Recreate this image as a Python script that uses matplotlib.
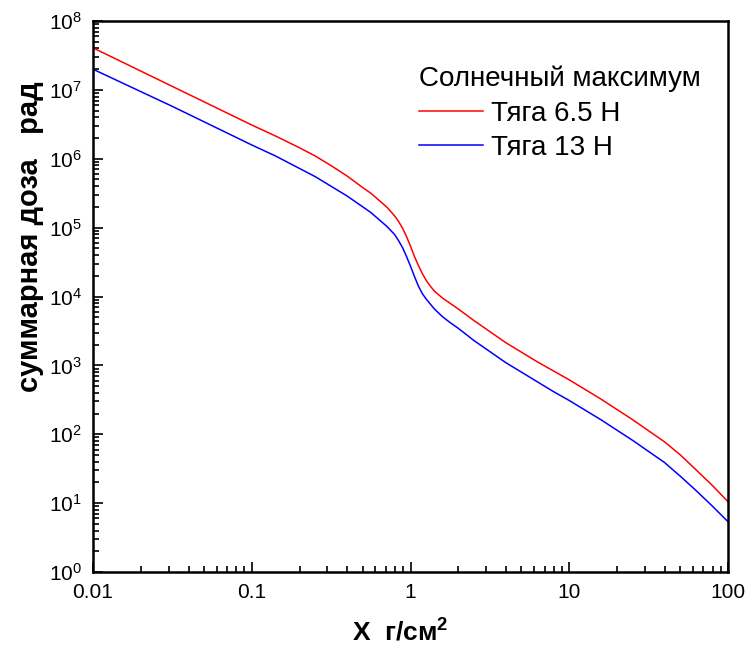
import numpy as np
import matplotlib
matplotlib.use('Agg')
import matplotlib.pyplot as plt
from matplotlib.ticker import LogLocator, FixedLocator, FixedFormatter, NullFormatter

plt.rcParams['font.family'] = ['Liberation Sans', 'DejaVu Sans']
plt.rcParams['mathtext.fontset'] = 'custom'
plt.rcParams['mathtext.rm'] = 'Liberation Sans'

# ── Data (log10 values) ──────────────────────────────────────────────────────
log_x = [-2.0, -1.5, -1.0, -0.85, -0.7, -0.6, -0.5, -0.4, -0.3, -0.25, -0.2,
         -0.15, -0.1, -0.075, -0.05, -0.025, 0.0, 0.025, 0.05, 0.075, 0.1,
         0.125, 0.15, 0.2, 0.25, 0.3, 0.4, 0.5, 0.6, 0.7, 0.8, 0.9, 1.0,
         1.1, 1.2, 1.3, 1.4, 1.5, 1.6, 1.7, 1.8, 1.9, 2.0]
log_red = [7.61, 7.05, 6.49, 6.33, 6.16, 6.04, 5.90, 5.75, 5.58, 5.50, 5.40,
           5.30, 5.17, 5.09, 4.99, 4.87, 4.73, 4.58, 4.45, 4.33, 4.23,
           4.15, 4.08, 3.98, 3.90, 3.82, 3.65, 3.49, 3.33, 3.19, 3.05, 2.92, 2.79,
           2.65, 2.51, 2.36, 2.21, 2.05, 1.89, 1.70, 1.48, 1.26, 1.02]
log_blue = [7.30, 6.76, 6.20, 6.04, 5.86, 5.74, 5.60, 5.46, 5.30, 5.22, 5.12,
            5.02, 4.90, 4.81, 4.71, 4.58, 4.44, 4.29, 4.15, 4.04, 3.96,
            3.89, 3.82, 3.71, 3.62, 3.54, 3.36, 3.20, 3.04, 2.90, 2.76, 2.62, 2.49,
            2.35, 2.21, 2.06, 1.91, 1.75, 1.59, 1.39, 1.18, 0.96, 0.73]

x = 10 ** np.array(log_x)
y_red = 10 ** np.array(log_red)
y_blue = 10 ** np.array(log_blue)

x_ticks = [0.01, 0.1, 1, 10, 100]
x_ticklabels = ['0.01', '0.1', '1', '10', '100']
y_ticks = [10.0 ** k for k in range(0, 9)]
y_ticklabels = [r'$\mathregular{10^{%d}}$' % k for k in range(0, 9)]

# ── Figure ───────────────────────────────────────────────────────────────────
fig = plt.figure(figsize=(7.54, 6.47), dpi=100, facecolor='white')
ax = fig.add_axes([93 / 754, 75 / 647, 635 / 754, 551 / 647])

ax.plot(x, y_red, color='#ff0000', lw=1.1, label='Тяга 6.5 Н')
ax.plot(x, y_blue, color='#0000ff', lw=1.1, label='Тяга 13 Н')

ax.set_xscale('log')
ax.set_yscale('log')
ax.set_xlim(0.01, 100)
ax.set_ylim(1, 1e8)

ax.xaxis.set_major_locator(FixedLocator(x_ticks))
ax.xaxis.set_major_formatter(FixedFormatter(x_ticklabels))
ax.xaxis.set_minor_locator(LogLocator(base=10, subs=np.arange(2, 10), numticks=20))
ax.xaxis.set_minor_formatter(NullFormatter())
ax.yaxis.set_major_locator(FixedLocator(y_ticks))
ax.yaxis.set_major_formatter(FixedFormatter(y_ticklabels))
ax.yaxis.set_minor_locator(LogLocator(base=10, subs=np.arange(2, 10), numticks=20))
ax.yaxis.set_minor_formatter(NullFormatter())

ax.tick_params(which='both', direction='in', top=False, right=False, width=1.2)
ax.tick_params(which='major', length=7)
ax.tick_params(axis='x', which='major', pad=8, labelsize=15)
ax.tick_params(axis='y', which='major', pad=8, labelsize=15)
ax.tick_params(which='minor', length=4)
for sp in ax.spines.values():
    sp.set_linewidth(1.8)

fig.text(400 / 754, 1 - 632 / 647, 'X  г/см$\\mathregular{^2}$', fontsize=19,
         fontweight='bold', ha='center', va='center')
fig.text(30 / 754, 1 - 237 / 647, 'суммарная доза   рад', fontsize=21,
         fontweight='bold', ha='center', va='center', rotation=90)

leg = ax.legend(title='Солнечный максимум', loc='upper left',
                bbox_to_anchor=(419 / 754, 1 - 66 / 647),
                bbox_transform=fig.transFigure, frameon=False, fontsize=20,
                title_fontsize=20, handlelength=2.3, handletextpad=0.3,
                labelspacing=0.3, borderpad=0, borderaxespad=0,
                alignment='left')

fig.savefig('out.png', dpi=100, facecolor='white')
